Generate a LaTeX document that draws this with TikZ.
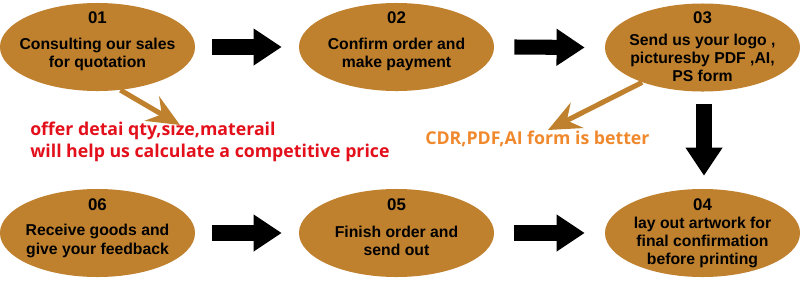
\documentclass[tikz,border=0pt]{standalone}
\usepackage{fontspec}
\setmainfont{Liberation Sans}
\newfontfamily\notefont{Open Sans}
\usepackage{xcolor}
\definecolor{brn}{HTML}{C0812F}
\definecolor{nred}{HTML}{E3101B}
\definecolor{norg}{HTML}{F0892E}
\usetikzlibrary{arrows.meta,positioning,calc,shapes.geometric}
\tikzset{
  stp/.style={ellipse,fill=brn,minimum width=4.875cm,minimum height=2.2cm,inner sep=0pt},
  num/.style={font=\bfseries\fontsize{12}{13}\selectfont,inner sep=0pt},
  txt/.style={font=\bfseries\fontsize{11.2}{13}\selectfont,align=center,inner sep=0pt},
  blk/.style={-{Triangle[length=20pt,width=25pt]},line width=10.7pt},
  call/.style={-{Stealth[length=23pt,width=20pt,inset=8pt]},draw=brn,line width=3.6pt},
  note/.style={font=\notefont\bfseries\fontsize{12.6}{15.6}\selectfont,align=left,inner sep=0pt},
}

\begin{document}
\begin{tikzpicture}[x=0.025cm,y=-0.025cm]
\useasboundingbox (0,0) rectangle (800,291);
% top row
\node[stp] (consult) at (97.5,47) {};
\node[stp] (confirm) at (396.5,47) {};
\node[stp] (send) at (702.5,47.5) {};
\node[num] (consultno) at ($(consult)+(0,-29.5)$) {01};
\node[num] (confirmno) at ($(confirm)+(0,-29.5)$) {02};
\node[num] (sendno) at ($(send)+(0,-30)$) {03};
\node[txt] (consulttx) at ($(consult)+(0,7.5)$) {Consulting our sales\\for quotation};
\node[txt] (confirmtx) at ($(confirm)+(0,7.5)$) {Confirm order and\\make payment};
\node[txt] (sendtx) at ($(send)+(0,10.5)$) {Send us your logo ,\\picturesby PDF ,AI,\\PS form};
% bottom row
\node[stp] (receive) at (97.5,233) {};
\node[stp] (finish) at (396.5,233) {};
\node[stp] (layout) at (702.5,233) {};
\node[num] (receiveno) at ($(receive)+(0,-28)$) {06};
\node[num] (finishno) at ($(finish)+(0,-28)$) {05};
\node[num] (layoutno) at ($(layout)+(0,-28)$) {04};
\node[txt] (receivetx) at ($(receive)+(0,8)$) {Receive goods and\\give your feedback};
\node[txt] (finishtx) at ($(finish)+(0,8)$) {Finish order and\\send out};
\node[txt] (layouttx) at ($(layout)+(0,9.5)$) {lay out artwork for\\final confirmation\\before printing};
% notes
\node[note,text=nred,anchor=west] (detail) at (30,142) {offer detai qty,size,materail\\will help us calculate a competitive price};
\node[note,text=norg,anchor=base west] (format) at (425,144) {CDR,PDF,AI form is better};
\coordinate (tip1) at (180,125);
\coordinate (tip2) at (548,130);
% arrows
\draw[blk] ($(consult.east)+(17,0)$)--($(confirm.west)+(-17,0)$);
\draw[blk] ($(confirm.east)+(20,0)$)--($(send.west)+(-20,0)$);
\draw[blk] ($(send.south)+(1.5,12)$)--($(layout.north)+(1.5,-13)$);
\draw[blk] ($(receive.east)+(17,0)$)--($(finish.west)+(-17,0)$);
\draw[blk] ($(finish.east)+(20,0)$)--($(layout.west)+(-20,0)$);
\draw[call] (consult.-62)--(tip1);
\draw[call] (send.-150)--(tip2);
\end{tikzpicture}
\end{document}
